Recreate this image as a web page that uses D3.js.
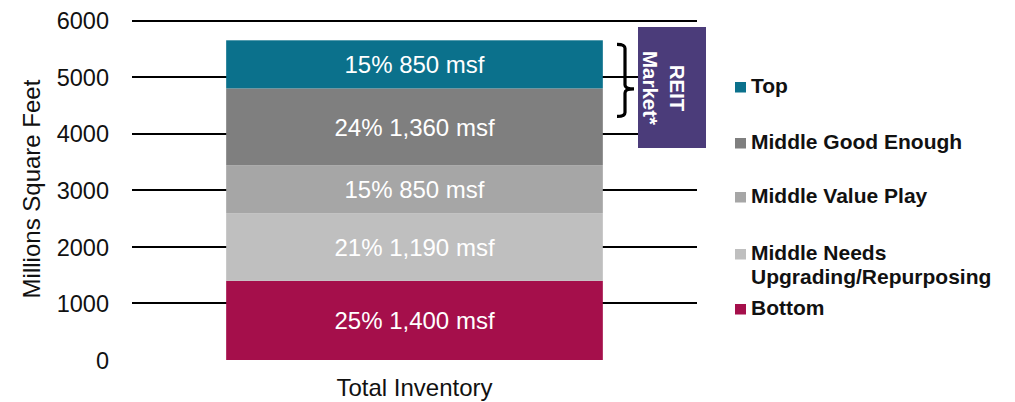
<!DOCTYPE html>
<html>
<head>
<meta charset="utf-8">
<script src="https://cdn.jsdelivr.net/npm/d3@7"></script>
<style>
  html, body { margin: 0; padding: 0; background: #fff; }
  svg { display: block; font-family: "Liberation Sans", Arial, sans-serif; }
</style>
</head>
<body>
<svg id="chart" width="1015" height="402"></svg>
<script>
// Office inventory by quality tier (millions of square feet)
const categories = ["Total Inventory"];
const segments = ["Bottom", "Middle Needs Upgrading/Repurposing", "Middle Value Play", "Middle Good Enough", "Top"];
const values = [1400, 1190, 850, 1360, 850];
const shares = [25, 21, 15, 24, 15];
const yTicks = [0, 1000, 2000, 3000, 4000, 5000, 6000];
const legendItems = [
  ["Top"],
  ["Middle Good Enough"],
  ["Middle Value Play"],
  ["Middle Needs", "Upgrading/Repurposing"],
  ["Bottom"]
];
const legendKeys = ["Top", "Middle Good Enough", "Middle Value Play", "Middle Needs Upgrading/Repurposing", "Bottom"];
const calloutLines = ["REIT", "Market*"];
const calloutFrom = "Middle Good Enough"; // bracket spans the top of this tier ...
const calloutTo = "Top";                  // ... up to the top of this one

const colors = {
  "Bottom": "#a50f4b",
  "Middle Needs Upgrading/Repurposing": "#bfbfbf",
  "Middle Value Play": "#a6a6a6",
  "Middle Good Enough": "#7f7f7f",
  "Top": "#0b718c"
};

const svg = d3.select("#chart");
const plot = { left: 132, right: 697, top: 20.5, bottom: 360 };

const x = d3.scaleBand().domain(categories).range([plot.left, plot.right]).padding(0.2);
const y = d3.scaleLinear().domain([0, 6000]).range([plot.bottom, plot.top]);

// stack the tiers
const row = {};
segments.forEach((s, i) => row[s] = values[i]);
const stacked = d3.stack().keys(segments)([row]);

// gridlines (no line at zero)
svg.append("g")
  .selectAll("line")
  .data(yTicks.filter(t => t > 0))
  .join("line")
  .attr("x1", plot.left).attr("x2", plot.right)
  .attr("y1", d => Math.round(y(d))).attr("y2", d => Math.round(y(d)))
  .attr("stroke", "#000").attr("stroke-width", 2);

// y axis labels
const yAxis = d3.axisLeft(y).tickValues(yTicks).tickSize(0).tickPadding(0).tickFormat(d3.format("d"));
svg.append("g")
  .attr("transform", `translate(109,0)`)
  .call(yAxis)
  .call(g => g.select(".domain").remove())
  .call(g => g.selectAll("text")
    .attr("font-family", "Liberation Sans, Arial, sans-serif")
    .attr("font-size", "23.5px")
    .attr("fill", "#111")
    .attr("dy", "0.35em"));

svg.append("text")
  .attr("transform", "translate(40,189) rotate(-90)")
  .attr("text-anchor", "middle")
  .attr("font-size", "24px")
  .attr("fill", "#111")
  .text("Millions Square Feet");

// bar segments
const bars = svg.append("g");
stacked.forEach((layer, i) => {
  const d = layer[0];
  bars.append("rect")
    .attr("x", x(categories[0]))
    .attr("width", x.bandwidth())
    .attr("y", y(d[1]))
    .attr("height", y(d[0]) - y(d[1]))
    .attr("fill", colors[layer.key]);
  bars.append("text")
    .attr("x", x(categories[0]) + x.bandwidth() / 2)
    .attr("y", (y(d[0]) + y(d[1])) / 2)
    .attr("dy", "0.36em")
    .attr("text-anchor", "middle")
    .attr("font-size", "24px")
    .attr("fill", "#fff")
    .text(`${shares[i]}% ${d3.format(",")(values[i])} msf`);
});

// category label
svg.append("text")
  .attr("x", x(categories[0]) + x.bandwidth() / 2)
  .attr("y", 396)
  .attr("text-anchor", "middle")
  .attr("font-size", "24px")
  .attr("fill", "#111")
  .text(categories[0]);

// bracket beside the upper tiers
const topLayer = stacked.find(l => l.key === calloutTo)[0];
const fromLayer = stacked.find(l => l.key === calloutFrom)[0];
const bTop = y(topLayer[1]) + 4;
const bBot = y(fromLayer[1]) + 28;
const bMid = y(topLayer[0]) + 0.5;
const bx0 = 617, bx1 = 625, bx2 = 634;
svg.append("path")
  .attr("d", `M${bx0},${bTop} Q${bx1},${bTop} ${bx1},${bTop + 4}
              L${bx1},${bMid - 4} Q${bx1},${bMid} ${bx2},${bMid}
              Q${bx1},${bMid} ${bx1},${bMid + 4}
              L${bx1},${bBot - 4} Q${bx1},${bBot} ${bx0},${bBot}`)
  .attr("fill", "none")
  .attr("stroke", "#000")
  .attr("stroke-width", 3.2);

// callout box
const box = { x: 638, y: 27, w: 68, h: 121 };
svg.append("rect")
  .attr("x", box.x).attr("y", box.y)
  .attr("width", box.w).attr("height", box.h)
  .attr("fill", "#4b3c7a");
const callout = svg.append("text")
  .attr("transform", `translate(670,${box.y + box.h / 2 + 0.5}) rotate(90)`)
  .attr("text-anchor", "middle")
  .attr("font-size", "20.5px")
  .attr("font-weight", "bold")
  .attr("fill", "#fff");
calloutLines.forEach((t, i) => {
  callout.append("tspan").attr("x", 0).attr("y", i * 27).text(t);
});

// legend
const legendY = [93, 149, 203, 260, 315];
const legend = svg.append("g");
legendItems.forEach((lines, i) => {
  const by = legendY[i];
  legend.append("rect")
    .attr("x", 735).attr("y", by - 11)
    .attr("width", 11).attr("height", 10.5)
    .attr("fill", colors[legendKeys[i]]);
  const t = legend.append("text")
    .attr("font-size", "21px")
    .attr("font-weight", "bold")
    .attr("fill", "#111");
  lines.forEach((ln, j) => {
    t.append("tspan").attr("x", 751).attr("y", by + j * 23.5).text(ln);
  });
});
</script>
</body>
</html>
